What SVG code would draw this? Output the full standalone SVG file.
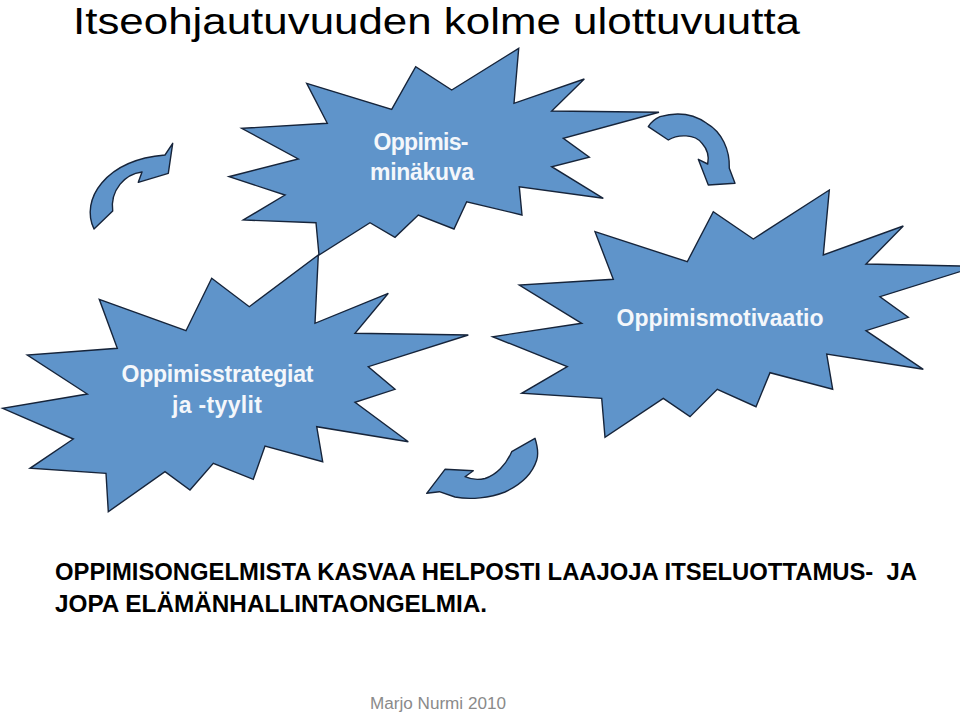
<svg xmlns="http://www.w3.org/2000/svg" width="960" height="716" viewBox="0 0 960 716">
<style>
.star{fill:#5f94ca;stroke:#16243a;stroke-width:1.4;stroke-linejoin:miter}
.arr{fill:#5f94ca;stroke:#16243a;stroke-width:1.4;stroke-linejoin:round}
.lbl{font-family:"Liberation Sans",Arial,sans-serif;font-weight:bold;font-size:23px;fill:#f4f7fb;text-anchor:middle}
.body{font-family:"Liberation Sans",Arial,sans-serif;font-weight:bold;font-size:24px;fill:#000}
</style>
<rect width="960" height="716" fill="#fff"/>
<text x="73" y="34" font-family="Liberation Sans, Arial, sans-serif" font-size="36" fill="#000" textLength="727" lengthAdjust="spacingAndGlyphs">Itseohjautuvuuden kolme ulottuvuutta</text>
<g id="connectors">
<path class="arr" d="M94 229 C80 200 105 160 165 155 L172.7 143.3 L168.3 173.3 L138.3 182.3 L142 172 C125 174 110 190 112.7 211 Z"/>
<path class="arr" d="M648.3 126.7 L668.3 140 C678 134 695 134 702 143.3 C708 150 709 158 707.7 164 L698.3 159.3 L708.3 185 L735 183.3 L729.3 168.3 C730 150 722 132 706.7 123.3 C695 115 680 111 660 116.7 C655 119 651 122 648.3 126.7 Z"/>
<path class="arr" d="M426.7 493.3 L445 469.3 L473.3 470.7 L465 476.7 C470 479 478 480 485 478.5 C496 475 506 465 511.7 451.7 L535 438.3 C538 448 538 456 536.7 460 C532 475 520 485 505 492 C490 498 470 500 455 497 L439.3 491.7 Z"/>
</g>
<g id="node-minakuva">
<polygon class="star" points="306.7,83.3 391.7,109.3 415.7,66.7 451.7,90 518.7,48.3 514,103.3 584.3,79 551.7,111 659,112.3 563.3,138.3 589.3,157.3 551.7,166.7 603.3,198.3 519.3,186.7 522,215 466.7,201.7 454,229 418.3,215 395,237.3 370,222.7 319,255 316,222.7 243.3,220 285,195 229,176.7 298.3,159 241.7,128.3 327.3,123.3"/>
<text class="lbl" x="421" y="150" textLength="95">Oppimis-</text>
<text class="lbl" x="422" y="180" textLength="104">minäkuva</text>
</g>
<g id="node-strategiat">
<polygon class="star" points="99.3,299.3 186,330.7 211.7,278.3 249.3,306.7 318.3,255 315,323.3 388.3,293.3 355,333.3 468.3,335 368.3,366.7 395,389.3 355,402.3 408.3,441.7 316.7,426.7 322.7,461.7 265,446 253.3,479.3 213.3,463.3 190,490 165,471.7 108.3,511.7 106,473.3 30,468.3 73.3,439 2.7,408.3 87.3,394 27.3,355 117.3,348.3"/>
<text class="lbl" x="217.5" y="382" textLength="192">Oppimisstrategiat</text>
<text class="lbl" x="217" y="413" textLength="90">ja -tyylit</text>
</g>
<g id="node-motivaatio">
<polygon class="star" points="595,231.7 687.3,261.7 713.3,211.7 753.3,239 829.3,190 823.3,255 903.3,226 866,264 977,266.3 880,296.7 908.3,317.3 866,330.7 923.3,369.3 826.7,354 832.7,389.3 770,372.7 756,406.7 717.3,389.3 690,416.7 663.3,398.3 605,437.3 601.7,398.3 521.7,393.3 567.3,366.7 492.7,336.7 581.7,323.3 519.3,285 613.3,279.3"/>
<text class="lbl" x="720" y="326" textLength="207">Oppimismotivaatio</text>
</g>
<text class="body" x="55" y="580" xml:space="preserve" textLength="862" lengthAdjust="spacingAndGlyphs">OPPIMISONGELMISTA KASVAA HELPOSTI LAAJOJA ITSELUOTTAMUS-  JA</text>
<text class="body" x="55" y="612" textLength="432" lengthAdjust="spacingAndGlyphs">JOPA ELÄMÄNHALLINTAONGELMIA.</text>
<text x="370" y="709" font-family="Liberation Sans, Arial, sans-serif" font-size="16" fill="#8a8a8a" textLength="136" lengthAdjust="spacingAndGlyphs">Marjo Nurmi 2010</text>
</svg>
